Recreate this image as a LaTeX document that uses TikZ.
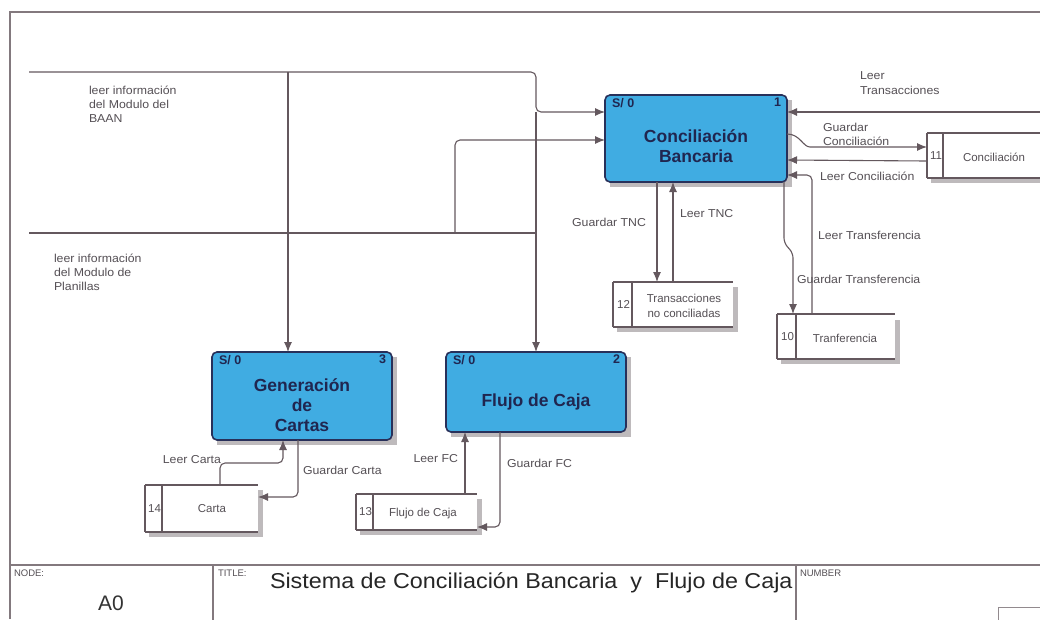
\documentclass[tikz,border=0pt]{standalone}
\usepackage{fontspec}
\setmainfont{Liberation Sans}
\usetikzlibrary{arrows.meta,calc}
\definecolor{lc}{RGB}{100,88,94}
\definecolor{boxfill}{RGB}{64,172,226}
\definecolor{boxdraw}{RGB}{40,48,90}
\definecolor{boxtext}{RGB}{32,38,80}
\definecolor{lbl}{RGB}{85,80,85}
\definecolor{shd}{RGB}{190,186,188}
\begin{document}
\begin{tikzpicture}[x=1pt,y=-1pt,
  every node/.style={inner sep=0pt,outer sep=0pt},
  proc/.style={draw=boxdraw,line width=1.6pt,fill=boxfill,rounded corners=5pt},
  ptext/.style={font=\fontsize{17.5}{20}\selectfont\bfseries,text=boxtext,align=center},
  sline/.style={draw=lc,line width=1.3pt},
  flow/.style={draw=lc,line width=1.1pt,rounded corners=5pt},
  arr/.style={flow,-{Latex[length=10pt,width=8pt]}},
  lab/.style={font=\fontsize{11.5}{14}\selectfont,text=lbl,align=left,xscale=1.07},
  stxt/.style={font=\fontsize{11.5}{15}\selectfont,text=lbl,align=center},
  corner/.style={font=\fontsize{12.5}{12}\selectfont\bfseries,text=boxtext},
  tb/.style={draw=lc!80,line width=1.2pt},
  tiny/.style={font=\fontsize{9.5}{9}\selectfont,text=lbl}
]
\useasboundingbox (0,0) rectangle (1040,619);
\fill[white] (0,0) rectangle (1040,619);
% outer frame
\draw[tb] (10,619) -- (10,12) -- (1045,12);
% title block
\draw[tb] (10,565) -- (1045,565);
\draw[tb] (213,565) -- (213,622);
\draw[tb] (796,565) -- (796,622);
\draw[draw=lc!70,line width=0.8pt] (998,625) -- (998,607) -- (1045,607);
\node[tiny,anchor=north west] (tnode) at (14,570) {NODE:};
\node[font=\fontsize{21}{21}\selectfont,text=black!80] (tnum) at (111,603) {A0};
\node[tiny,anchor=north west] (ttitle) at (218,570) {TITLE:};
\node[font=\fontsize{21.5}{22}\selectfont,text=black!85,anchor=west,xscale=1.085] (ttext) at (270,583) {Sistema de Conciliación Bancaria\ \ y\ \ Flujo de Caja};
\node[tiny,anchor=north west] (tnumber) at (800,570) {NUMBER};

% shadows
\fill[shd] (610,100) rectangle (792,187);
\fill[shd] (217,357) rectangle (397,445);
\fill[shd] (451,357) rectangle (631,437);

% processes
\node[proc,minimum width=182pt,minimum height=87pt] (CB) at (696,138.5) {};
\node[proc,minimum width=180pt,minimum height=88pt] (GC) at (302,396) {};
\node[proc,minimum width=180pt,minimum height=80pt] (FC) at (536,392) {};
\node[ptext] (CBt) at ($(CB.center)+(0,8)$) {Conciliación\\Bancaria};
\node[ptext] (GCt) at ($(GC.center)+(0,9)$) {Generación\\de\\Cartas};
\node[ptext] (FCt) at ($(FC.center)+(0,10)$) {Flujo de Caja};
\node[corner,anchor=north west] (cb0) at ($(CB.north west)+(7,3)$) {S/ 0};
\node[corner,anchor=north east] (cb1) at ($(CB.north east)+(-6,3)$) {1};
\node[corner,anchor=north west] (gc0) at ($(GC.north west)+(7,3)$) {S/ 0};
\node[corner,anchor=north east] (gc1) at ($(GC.north east)+(-6,3)$) {3};
\node[corner,anchor=north west] (fc0) at ($(FC.north west)+(7,3)$) {S/ 0};
\node[corner,anchor=north east] (fc1) at ($(FC.north east)+(-6,3)$) {2};

% stores
\newcommand\storedraw[3]{%
  \draw[sline] (#1.north west) -- (#1.north east);
  \draw[sline] (#1.south west) -- (#1.south east);
  \draw[sline,line width=2pt] (#1.north west) -- (#1.south west);
  \draw[sline] ($(#1.north west)+(#2,0)$) -- ($(#1.south west)+(#2,0)$);
  \node[stxt] at ($(#1.west)+(#2/2+1,0)$) {#3};
}
\fill[shd] (931,178) rectangle (1045,183);
\node[minimum width=118pt,minimum height=45pt] (S11) at (986,155.5) {};
\storedraw{S11}{16}{11}
\node[stxt] (S11t) at (994,157) {Conciliación};

\fill[shd] (617,327) rectangle (737,332);
\fill[shd] (733,287) rectangle (738,332);
\node[minimum width=120pt,minimum height=45pt] (S12) at (673,304.5) {};
\storedraw{S12}{19}{12}
\node[stxt] (S12t) at (684,306) {Transacciones\\no conciliadas};

\fill[shd] (781,359) rectangle (899,364);
\fill[shd] (895,320) rectangle (900,364);
\node[minimum width=118pt,minimum height=45pt] (S10) at (836,336.5) {};
\storedraw{S10}{19}{10}
\node[stxt] (S10t) at (845,338) {Tranferencia};

\fill[shd] (149,532) rectangle (262,537);
\fill[shd] (258,490) rectangle (263,537);
\node[minimum width=113pt,minimum height=47pt] (S14) at (201.5,508.5) {};
\storedraw{S14}{17}{14}
\node[stxt] (S14t) at (212,509) {Carta};

\fill[shd] (360,530) rectangle (481,535);
\fill[shd] (477,499) rectangle (482,535);
\node[minimum width=121pt,minimum height=36pt] (S13) at (416.5,512) {};
\storedraw{S13}{17}{13}
\node[stxt] (S13t) at (423,514) {Flujo de Caja};

% inputs from left
\coordinate (inA) at (29,72);
\coordinate (inB) at (29,233);
\coordinate (jA) at (288,72);
\coordinate (jB) at (536,112);
\draw[arr] (inA) -- (536,72) -- (536,112) -- (CB.west |- jB);
\draw[arr] (jA) -- (jA |- GC.north);
\draw[arr] (jB) -- (536,233) -- (FC.north);
\draw[flow] (inB) -- (536,233);
\draw[arr] (455,233) -- (455,140) -- (CB.west |- 0,140);

% right side of CB
\coordinate (inT) at (1045,112);
\draw[arr] (inT) -- (CB.east |- inT);
\draw[arr] (CB.east |- 0,134) .. controls (800,134) and (803,147) .. (815,147) -- (S11.west |- 0,147);
\draw[arr] (S11.west |- 0,161) -- (CB.east |- 0,160);
\draw[arr] (S10.north -| 812,0) -- (812,175) -- (CB.east |- 0,175);
\draw[arr] (CB.south -| 784,0) -- (784,243) -- (793,253) -- (S10.north -| 793,0);
\draw[arr] (CB.south -| 657,0) -- (S12.north -| 657,0);
\draw[arr] (S12.north -| 673,0) -- (CB.south -| 673,0);

% bottom flows
\draw[arr] (S14.north -| 220,0) -- (220,463) -- (283,463) -- (GC.south -| 283,0);
\draw[arr] (GC.south -| 298,0) -- (298,497) -- (S14.east |- 0,497);
\draw[arr] (S13.north -| 465,0) -- (FC.south -| 465,0);
\draw[arr] (FC.south -| 500,0) -- (500,527) -- (S13.east |- 0,527);

% labels
\node[lab,anchor=north west] (lA) at (89,86) {leer información\\del Modulo del\\BAAN};
\node[lab,anchor=north west] (lB) at (54,254) {leer información\\del Modulo de\\Planillas};
\node[lab,anchor=north west,font=\fontsize{11.5}{15}\selectfont] (lT) at (860,72) {Leer\\Transacciones};
\node[lab,anchor=north west] (lGC) at (823,123) {Guardar\\Conciliación};
\node[lab,anchor=west] (lLC) at (820,176) {Leer Conciliación};
\node[lab,anchor=east] (lGT) at (646,222) {Guardar TNC};
\node[lab,anchor=west] (lLT) at (680,214) {Leer TNC};
\node[lab,anchor=west] (lLTr) at (818,235) {Leer Transferencia};
\node[lab,anchor=west] (lGTr) at (797,279) {Guardar Transferencia};
\node[lab,anchor=east] (lLCa) at (221,460) {Leer Carta};
\node[lab,anchor=west] (lGCa) at (303,470) {Guardar Carta};
\node[lab,anchor=east] (lLF) at (458,459) {Leer FC};
\node[lab,anchor=west] (lGF) at (507,463) {Guardar FC};
\end{tikzpicture}
\end{document}
